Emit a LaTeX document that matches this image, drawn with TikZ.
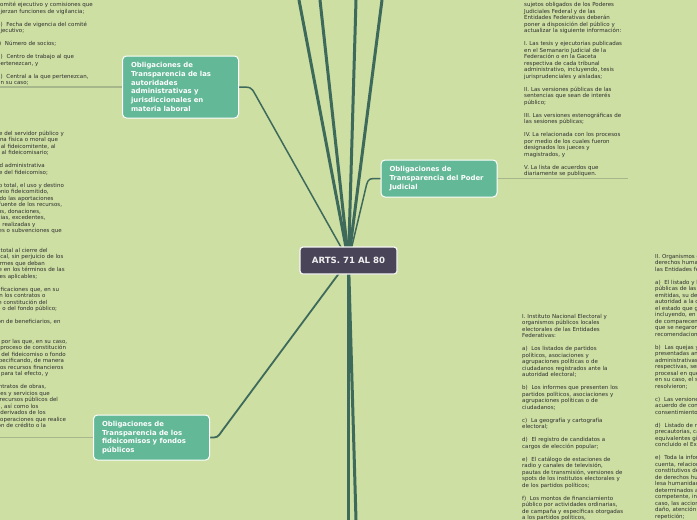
\documentclass[tikz,border=0pt]{standalone}
\usepackage{fontspec}
\setmainfont{DejaVu Sans}
\definecolor{bgcol}{HTML}{CDDFA3}
\definecolor{branchcol}{HTML}{3E6A5B}
\definecolor{topiccol}{HTML}{62B897}
\definecolor{rootcol}{HTML}{4A4458}
\definecolor{leafcol}{HTML}{A6B78C}
\definecolor{leaftext}{HTML}{2E2E2E}
\pgfdeclarelayer{back}
\pgfsetlayers{back,main}
\begin{document}
\begin{tikzpicture}[x=1pt,y=-1pt,
    branch/.style={draw=branchcol,line width=3pt},
    twig/.style={draw=branchcol,line width=1.5pt},
    leafline/.style={draw=leafcol,line width=1.2pt},
    topic/.style={draw=white,line width=1pt,fill=topiccol,rounded corners=4pt,text=white,
        font=\fontsize{6.9}{8.8}\selectfont\bfseries,align=left,text width=99pt,
        inner xsep=8.5pt,inner ysep=0pt,minimum width=116pt},
    leaf/.style={text=leaftext,font=\fontsize{5.5}{6.5}\selectfont,align=left,
        text width=104pt,inner sep=0pt,anchor=base west}]
    \useasboundingbox (0,0) rectangle (697,520);
    \begin{pgfonlayer}{back}
    \fill[bgcol] (0,0) rectangle (697,520);
    \end{pgfonlayer}
    \node[draw=white!92!gray,line width=1.2pt,fill=rootcol,rounded corners=3pt,
        minimum width=97pt,minimum height=27pt,text=white!88!gray,
        font=\fontsize{8.6}{10}\selectfont\bfseries] (arts) at (348.5,260.5) {ARTS. 71 AL 80};
    \node[topic,minimum height=62pt] (laboral) at (180.5,87) {Obligaciones de\\Transparencia de las\\autoridades\\administrativas y\\jurisdiccionales en\\materia laboral};
    \node[topic,minimum height=37pt] (judicial) at (439,178.5) {Obligaciones de\\Transparencia del Poder\\Judicial};
    \node[topic,minimum height=45pt] (fideicomisos) at (151.5,437.5) {Obligaciones de\\Transparencia de los\\fideicomisos y fondos\\públicos};
    \node[leaf] (labtxt) at (-3,6.7) {comité ejecutivo y comisiones que\\
        ejerzan funciones de vigilancia;\\[6.5pt]
        e)\ \ Fecha de vigencia del comité\\
        ejecutivo;\\[6.5pt]
        f)\ \ Número de socios;\\[6.5pt]
        g)\ \ Centro de trabajo al que\\
        pertenezcan, y\\[6.5pt]
        h)\ \ Central a la que pertenezcan,\\
        en su caso;};
    \node[leaf] (judtxt) at (524,6.7) {sujetos obligados de los Poderes\\
        Judiciales Federal y de las\\
        Entidades Federativas deberán\\
        poner a disposición del público y\\
        actualizar la siguiente información:\\[6.5pt]
        I. Las tesis y ejecutorias publicadas\\
        en el Semanario Judicial de la\\
        Federación o en la Gaceta\\
        respectiva de cada tribunal\\
        administrativo, incluyendo, tesis\\
        jurisprudenciales y aisladas;\\[6.5pt]
        II. Las versiones públicas de las\\
        sentencias que sean de interés\\
        público;\\[6.5pt]
        III. Las versiones estenográficas de\\
        las sesiones públicas;\\[6.5pt]
        IV. La relacionada con los procesos\\
        por medio de los cuales fueron\\
        designados los jueces y\\
        magistrados, y\\[6.5pt]
        V. La lista de acuerdos que\\
        diariamente se publiquen.};
    \node[leaf] (fidtxt) at (-31,135.3) {I. El nombre del servidor público y\\
        de la persona física o moral que\\
        represente al fideicomitente, al\\
        fiduciario y al fideicomisario;\\[6.5pt]
        II. La unidad administrativa\\
        responsable del fideicomiso;\\[6.5pt]
        III. El monto total, el uso y destino\\
        del patrimonio fideicomitido,\\
        distinguiendo las aportaciones\\
        públicas y fuente de los recursos,\\
        los subsidios, donaciones,\\
        transferencias, excedentes,\\
        inversiones realizadas y\\
        aportaciones o subvenciones que\\
        reciban;\\[6.5pt]
        IV. El saldo total al cierre del\\
        ejercicio fiscal, sin perjuicio de los\\
        demás informes que deban\\
        presentarse en los términos de las\\
        disposiciones aplicables;\\[6.5pt]
        V. Las modificaciones que, en su\\
        caso, sufran los contratos o\\
        decretos de constitución del\\
        fideicomiso o del fondo público;\\[6.5pt]
        VI. El padrón de beneficiarios, en\\
        su caso;\\[6.5pt]
        VII. Causas por las que, en su caso,\\
        se inicie el proceso de constitución\\
        o extinción del fideicomiso o fondo\\
        público, especificando, de manera\\
        detallada, los recursos financieros\\
        destinados para tal efecto, y\\[6.5pt]
        VIII. Los contratos de obras,\\
        adquisiciones y servicios que\\
        involucren recursos públicos del\\
        fideicomiso, así como los\\
        honorarios derivados de los\\
        servicios y operaciones que realice\\
        la institución de crédito o la\\
        fiduciaria.};
    \node[leaf,text width=130pt] (inetxt) at (522,318) {I. Instituto Nacional Electoral y\\
        organismos públicos locales\\
        electorales de las Entidades\\
        Federativas:\\[6.5pt]
        a)\ \ Los listados de partidos\\
        políticos, asociaciones y\\
        agrupaciones políticas o de\\
        ciudadanos registrados ante la\\
        autoridad electoral;\\[6.5pt]
        b)\ \ Los informes que presenten los\\
        partidos políticos, asociaciones y\\
        agrupaciones políticas o de\\
        ciudadanos;\\[6.5pt]
        c)\ \ La geografía y cartografía\\
        electoral;\\[6.5pt]
        d)\ \ El registro de candidatos a\\
        cargos de elección popular;\\[6.5pt]
        e)\ \ El catálogo de estaciones de\\
        radio y canales de televisión,\\
        pautas de transmisión, versiones de\\
        spots de los institutos electorales y\\
        de los partidos políticos;\\[6.5pt]
        f)\ \ Los montos de financiamiento\\
        público por actividades ordinarias,\\
        de campaña y específicas otorgadas\\
        a los partidos políticos,};
    \node[leaf,text width=130pt] (orgtxt) at (655,258) {II. Organismos de protección de los\\
        derechos humanos Nacional y de\\
        las Entidades federativas:\\[6.5pt]
        a)\ \ El listado y las versiones\\
        públicas de las recomendaciones\\
        emitidas, su destinatario o\\
        autoridad a la que se recomienda y\\
        el estado que guarda su atención,\\
        incluyendo, en su caso, las minutas\\
        de comparecencias de los titulares\\
        que se negaron a aceptar las\\
        recomendaciones;\\[6.5pt]
        b)\ \ Las quejas y denuncias\\
        presentadas ante las autoridades\\
        administrativas y penales\\
        respectivas, señalando el estado\\
        procesal en que se encuentran y,\\
        en su caso, el sentido en el que se\\
        resolvieron;\\[6.5pt]
        c)\ \ Las versiones públicas del\\
        acuerdo de conciliación, previo\\
        consentimiento del quejoso;\\[6.5pt]
        d)\ \ Listado de medidas\\
        precautorias, cautelares o\\
        equivalentes giradas, una vez\\
        concluido el Expediente;\\[6.5pt]
        e)\ \ Toda la información con que\\
        cuenta, relacionada con hechos\\
        constitutivos de violaciones graves\\
        de derechos humanos o delitos de\\
        lesa humanidad, una vez\\
        determinados así por la autoridad\\
        competente, incluyendo, en su\\
        caso, las acciones de reparación del\\
        daño, atención a víctimas y de no\\
        repetición;};
    \coordinate (up1) at (299,0);
    \coordinate (up2) at (320,0);
    \coordinate (up3) at (356,0);
    \coordinate (up4) at (382,0);
    \coordinate (down1) at (348.5,520);
    \coordinate (down2) at (356,520);
    \begin{pgfonlayer}{back}
    \foreach \c in {up1,up2,up3,up4,down1,down2}
        \draw[branch] (arts.center) -- (\c);
    \draw[twig] (arts.center) -- (255,94) .. controls (251,87) .. (laboral.east);
    \draw[twig] (arts.center) -- (366.5,185) .. controls (368.5,178.5) .. (judicial.west);
    \draw[twig,line width=1.8pt] (arts.center) -- (222,431) .. controls (217.5,437.5) .. (fideicomisos.east);
    \draw[leafline] (laboral.west) -- (laboral.west -| labtxt.west);
    \draw[leafline] (judicial.east) -- (judicial.east -| judtxt.east);
    \draw[leafline] (fideicomisos.west) -- (fideicomisos.west -| fidtxt.west);
    \end{pgfonlayer}
\end{tikzpicture}
\end{document}
